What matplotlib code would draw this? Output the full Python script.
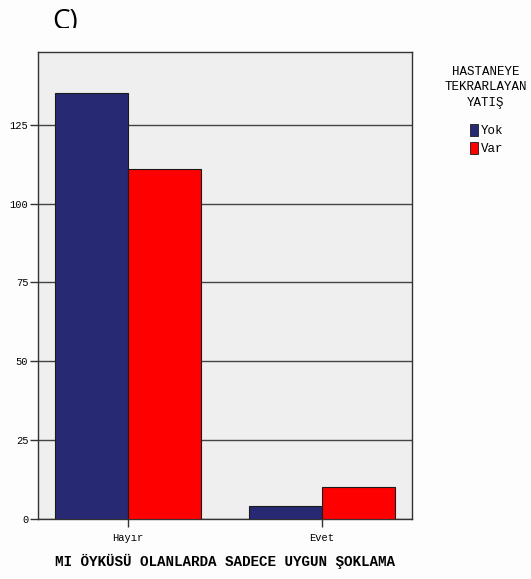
import matplotlib
matplotlib.use("Agg")
import matplotlib.pyplot as plt
from matplotlib.patches import Patch
from matplotlib.transforms import Bbox, TransformedBbox
import numpy as np

categories = ["Hayır", "Evet"]
groups = ["Yok", "Var"]
yok_values = [135, 4]
var_values = [111, 10]
y_ticks = [0, 25, 50, 75, 100, 125]
colors = {"Yok": "#272a72", "Var": "#ff0000"}

mono = "Liberation Mono"
W, H = 531, 579

fig = plt.figure(figsize=(W / 100, H / 100), dpi=100)
fig.patch.set_facecolor("#fdfdfd")
ax = fig.add_axes([0.0716, 0.1036, 0.7044, 0.8064])
ax.set_facecolor("#efefef")

x = np.arange(len(categories))
w = 0.376
ax.bar(x - w / 2, yok_values, w, color=colors["Yok"], edgecolor="#1a1a1a", linewidth=0.8, zorder=3)
ax.bar(x + w / 2, var_values, w, color=colors["Var"], edgecolor="#1a1a1a", linewidth=0.8, zorder=3)

ax.set_xlim(-0.464, 1.464)
ax.set_ylim(0, 148)
ax.set_yticks(y_ticks)
ax.set_yticklabels([str(t) for t in y_ticks], fontfamily=mono, fontsize=7.5)
ax.set_xticks(x)
ax.set_xticklabels(categories, fontfamily=mono, fontsize=7.5)
ax.tick_params(axis="y", length=6, width=1, color="#333333", pad=1)
ax.tick_params(axis="x", length=6, width=1, color="#333333", pad=4)
ax.grid(axis="y", color="#444444", linewidth=1.0, zorder=1)
for s in ax.spines.values():
    s.set_color("#333333")
    s.set_linewidth(1.0)

ax.set_xlabel("MI ÖYKÜSÜ OLANLARDA SADECE UYGUN ŞOKLAMA",
              fontfamily=mono, fontweight="bold", fontsize=10.3, labelpad=8)

# panel letter, cut off slightly at its lower edge
panel = fig.text(52 / W, 1 - 29 / H, "C)", fontsize=20, fontfamily="Open Sans",
                 va="baseline", ha="left")
panel.set_clip_box(TransformedBbox(Bbox([[0, 1 - 28 / H], [1, 1]]), fig.transFigure))
panel.set_clip_on(True)

# legend title and entries
fig.text(486 / W, 1 - 87.5 / H, "HASTANEYE\nTEKRARLAYAN\nYATIŞ", fontfamily=mono,
         fontsize=9, ha="center", va="center", multialignment="center", linespacing=1.35)
handles = [Patch(facecolor=colors[g], edgecolor="#1a1a1a", linewidth=0.6) for g in groups]
leg = fig.legend(handles, groups, loc="upper left", bbox_to_anchor=(470 / W, 1 - 124 / H),
                 frameon=False, borderpad=0, borderaxespad=0,
                 prop={"family": mono, "size": 9},
                 handlelength=0.6, handleheight=1.1, handletextpad=0.3, labelspacing=0.4)

fig.savefig("out.png", dpi=100, facecolor=fig.get_facecolor())
